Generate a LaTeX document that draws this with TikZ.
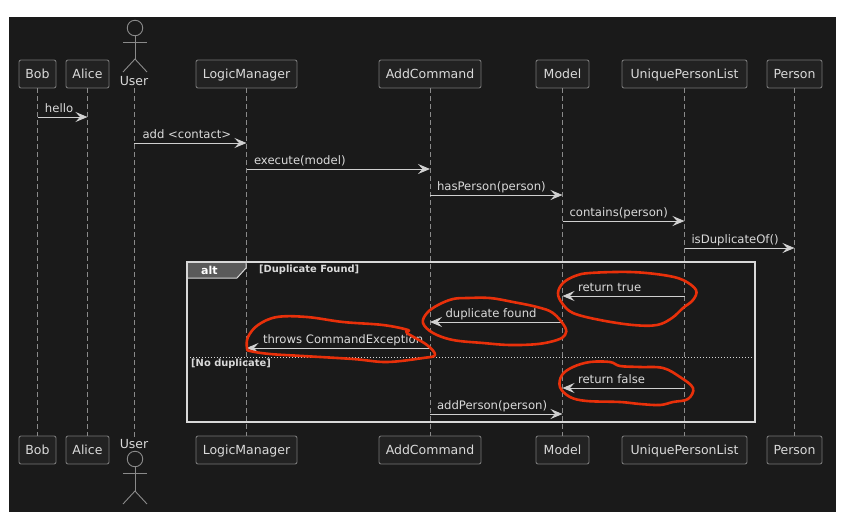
\documentclass[tikz,border=0pt]{standalone}
\usepackage{fontspec}
\setmainfont{DejaVu Sans}
\usetikzlibrary{arrows.meta}
\definecolor{panelbg}{HTML}{1A1A1A}
\definecolor{boxbg}{HTML}{222222}
\definecolor{boxline}{HTML}{767676}
\definecolor{lifegrey}{HTML}{8A8A8A}
\definecolor{inktext}{HTML}{DADADA}
\definecolor{msgline}{HTML}{D0D0D0}
\definecolor{framewhite}{HTML}{D8D8D8}
\definecolor{tabgrey}{HTML}{5A5A5A}
\definecolor{penred}{HTML}{E8300A}
\tikzset{
	party/.style={rectangle,draw=boxline,line width=0.9pt,fill=boxbg,rounded corners=2pt,text=inktext,font=\fontsize{12.5}{14}\selectfont,minimum height=28pt,inner sep=0pt,text height=9.1pt,text depth=0pt},
	actorname/.style={text=inktext,font=\fontsize{12.5}{14}\selectfont,minimum height=14pt,inner sep=0pt,text height=9.1pt,text depth=0pt},
	actorhead/.style={circle,draw=lifegrey,line width=0.9pt,minimum size=15.5pt,inner sep=0pt},
	actorline/.style={draw=lifegrey,line width=0.9pt},
	lifeline/.style={draw=lifegrey,line width=0.8pt,dash pattern=on 4.5pt off 3.5pt},
	msg/.style={draw=msgline,line width=1pt,-{Stealth[length=12pt,width=10pt,inset=4.5pt]}},
	msgtext/.style={pos=0,anchor=base west,text=inktext,font=\fontsize{11.65}{13}\selectfont,inner sep=0pt,yshift=5pt},
	altframe/.style={draw=framewhite,line width=1.5pt},
	guard/.style={anchor=base west,text=inktext,font=\bfseries\fontsize{9.9}{11}\selectfont,inner sep=0pt},
	scribble/.style={draw=penred,line width=2.6pt,line join=round},
}
\begin{document}
\begin{tikzpicture}[x=1pt,y=-1pt]
	\useasboundingbox (0,0) rectangle (847,523);
	\fill[white] (0,0) rectangle (847,523);
	\fill[panelbg] (9,17) rectangle (836,512);

	%top row
	\node[party,minimum width=37pt] (bobtop) at (37.5,74) {Bob};
	\node[party,minimum width=43pt] (alicetop) at (87.5,74) {Alice};
	\node[actorname] (usertop) at (134,81) {User};
	\node[party,minimum width=101pt] (logictop) at (246.5,74) {LogicManager};
	\node[party,minimum width=102pt] (addtop) at (430,74) {AddCommand};
	\node[party,minimum width=53pt] (modeltop) at (562.5,74) {Model};
	\node[party,minimum width=125pt] (listtop) at (684.5,74) {UniquePersonList};
	\node[party,minimum width=55pt] (persontop) at (794.5,74) {Person};
	%bottom row
	\node[party,minimum width=37pt] (bobbot) at (37.5,450) {Bob};
	\node[party,minimum width=43pt] (alicebot) at (87.5,450) {Alice};
	\node[actorname] (userbot) at (134,444) {User};
	\node[party,minimum width=101pt] (logicbot) at (246.5,450) {LogicManager};
	\node[party,minimum width=102pt] (addbot) at (430,450) {AddCommand};
	\node[party,minimum width=53pt] (modelbot) at (562.5,450) {Model};
	\node[party,minimum width=125pt] (listbot) at (684.5,450) {UniquePersonList};
	\node[party,minimum width=55pt] (personbot) at (794.5,450) {Person};

	%stick figures
	\node[actorhead] (headtop) at (135,28) {};
	\coordinate (hiptop) at (135,59);
	\coordinate (armtopL) at (123,42);
	\coordinate (armtopR) at (147,42);
	\coordinate (legtopL) at (123,72);
	\coordinate (legtopR) at (147,72);
	\draw[actorline] (headtop) -- (hiptop);
	\draw[actorline] (armtopL) -- (armtopR);
	\draw[actorline] (legtopL) -- (hiptop) -- (legtopR);
	\node[actorhead] (headbot) at (135,459) {};
	\coordinate (hipbot) at (135,491);
	\coordinate (armbotL) at (123,473);
	\coordinate (armbotR) at (147,473);
	\coordinate (legbotL) at (123,504);
	\coordinate (legbotR) at (147,504);
	\draw[actorline] (headbot) -- (hipbot);
	\draw[actorline] (armbotL) -- (armbotR);
	\draw[actorline] (legbotL) -- (hipbot) -- (legbotR);

	%lifelines
	\draw[lifeline] (bobtop) -- (bobbot);
	\draw[lifeline] (alicetop) -- (alicebot);
	\draw[lifeline] (usertop) -- (userbot);
	\draw[lifeline] (logictop) -- (logicbot);
	\draw[lifeline] (addtop) -- (addbot);
	\draw[lifeline] (modeltop) -- (modelbot);
	\draw[lifeline] (listtop) -- (listbot);
	\draw[lifeline] (persontop) -- (personbot);

	%alt frame
	\coordinate (altnw) at (187,262);
	\coordinate (altse) at (755,422);
	\coordinate (altsplit) at (0,357);
	\fill[tabgrey] (altnw) -- (246,262) -- (246,268) -- (237,278) -- (187,278) -- cycle;
	\draw[framewhite,line width=1pt] (246,262) -- (246,268) -- (237,278) -- (187,278);
	\draw[altframe] (altnw) rectangle (altse);
	\draw[framewhite,line width=1pt,dotted] (altnw |- altsplit) -- (altse |- altsplit);
	\node[anchor=base west,text=white,font=\bfseries\fontsize{11}{13}\selectfont,inner sep=0pt] (alttag) at (201,274) {alt};
	\node[guard] (guardfound) at (259,272.5) {[Duplicate Found]};
	\node[guard] (guardnone) at (191,366.5) {[No duplicate]};

	%message rows
	\coordinate (rowhello) at (0,117);
	\coordinate (rowadd) at (0,143);
	\coordinate (rowexec) at (0,169);
	\coordinate (rowhas) at (0,195);
	\coordinate (rowcontains) at (0,221);
	\coordinate (rowdup) at (0,248);
	\coordinate (rowtrue) at (0,296);
	\coordinate (rowfound) at (0,322);
	\coordinate (rowthrows) at (0,348);
	\coordinate (rowfalse) at (0,388);
	\coordinate (rowaddp) at (0,414);
	%messages
	\draw[msg] (bobtop |- rowhello) -- (alicetop |- rowhello) node[msgtext,xshift=7pt] (mhello) {hello};
	\draw[msg] (usertop |- rowadd) -- (logictop |- rowadd) node[msgtext,xshift=8pt] (madd) {add <contact>};
	\draw[msg] (logictop |- rowexec) -- (addtop |- rowexec) node[msgtext,xshift=7pt] (mexec) {execute(model)};
	\draw[msg] (addtop |- rowhas) -- (modeltop |- rowhas) node[msgtext,xshift=6.5pt] (mhas) {hasPerson(person)};
	\draw[msg] (modeltop |- rowcontains) -- (listtop |- rowcontains) node[msgtext,xshift=6.5pt] (mcontains) {contains(person)};
	\draw[msg] (listtop |- rowdup) -- (persontop |- rowdup) node[msgtext,xshift=6.5pt] (mdup) {isDuplicateOf()};
	\draw[msg] (listtop |- rowtrue) -- (modeltop |- rowtrue) node[msgtext,pos=1,xshift=15pt] (mtrue) {return true};
	\draw[msg] (modeltop |- rowfound) -- (addtop |- rowfound) node[msgtext,pos=1,xshift=15pt] (mfound) {duplicate found};
	\draw[msg] (addtop |- rowthrows) -- (logictop |- rowthrows) node[msgtext,pos=1,xshift=16pt] (mthrows) {throws CommandException};
	\draw[msg] (listtop |- rowfalse) -- (modeltop |- rowfalse) node[msgtext,pos=1,xshift=15pt] (mfalse) {return false};
	\draw[msg] (addtop |- rowaddp) -- (modeltop |- rowaddp) node[msgtext,xshift=6.5pt] (maddp) {addPerson(person)};

	%red pen marks
	\draw[scribble] plot[smooth cycle,tension=0.6] coordinates {(590,273) (630,272) (663,275) (683,280) (696,290) (693,300) (683,308) (672,318) (657,325) (633,325) (600,320) (573,313) (562,303) (558,293) (563,283) (575,276)};
	\draw[scribble] plot[smooth cycle,tension=0.6] coordinates {(423,323) (427,313) (438,305) (453,299) (468,298) (490,298) (513,302) (537,307) (553,313) (565,327) (565,335) (557,340) (538,344) (510,345) (483,343) (453,340) (433,333)};
	\draw[scribble] plot[smooth cycle,tension=0.6] coordinates {(247,348) (248,337) (258,325) (277,317) (307,317) (343,322) (383,325) (408,330) (407,333) (427,345) (435,355) (423,358) (387,362) (353,359) (303,356) (270,354) (250,351)};
	\draw[scribble] plot[smooth cycle,tension=0.6] coordinates {(560,387) (562,375) (573,367) (590,362) (610,362) (620,366) (640,367) (663,368) (680,377) (693,388) (688,399) (673,402) (660,405) (640,404) (620,402) (587,401) (570,397)};
\end{tikzpicture}
\end{document}
